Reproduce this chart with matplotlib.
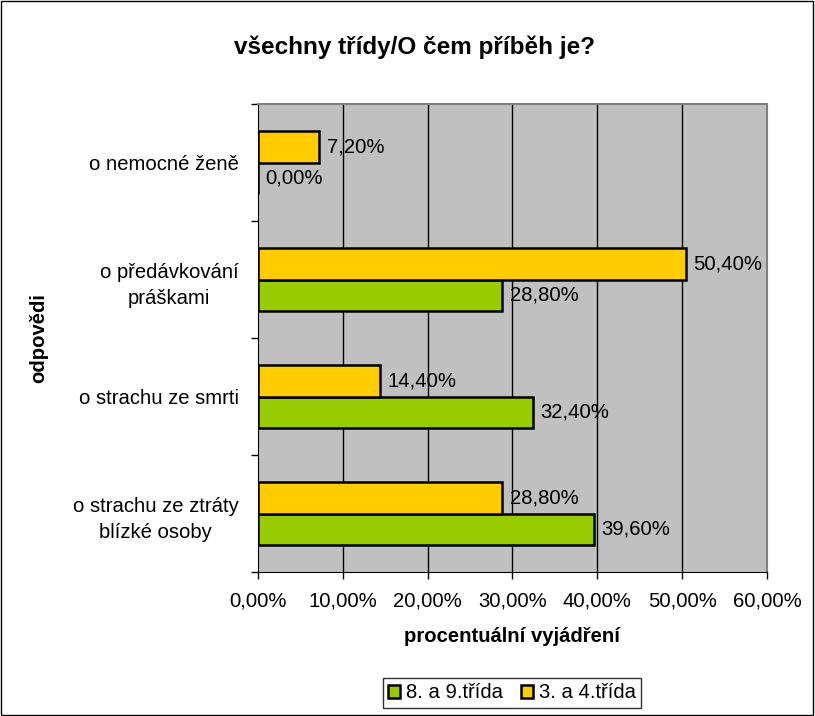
import numpy as np
import matplotlib
matplotlib.use("Agg")
import matplotlib.pyplot as plt
from matplotlib.patches import Rectangle

plt.rcParams['font.family'] = ['Liberation Sans', 'DejaVu Sans']

# data (top to bottom as in the chart)
categories = ["o nemocné ženě", "o předávkování\npráškami", "o strachu ze smrti",
              "o strachu ze ztráty\nblízké osoby"]
series_names = ["8. a 9.třída", "3. a 4.třída"]
vals_89 = [0.0, 28.8, 32.4, 39.6]
vals_34 = [7.2, 50.4, 14.4, 28.8]
xticks = [0, 10, 20, 30, 40, 50, 60]

green = "#99CC00"
yellow = "#FFCC00"
fs = 14.6

fig = plt.figure(figsize=(8.15, 7.16), dpi=100)
ax = fig.add_axes([258/815, 1-572/716, (767-258)/815, (572-104)/716])
ax.set_facecolor("#C0C0C0")

n = len(categories)
y = np.arange(n)[::-1].astype(float)
h = 0.27

b1 = ax.barh(y - h/2, vals_89, height=h, color=green, edgecolor="black", linewidth=1.8,
             label=series_names[0], zorder=3)
b2 = ax.barh(y + h/2, vals_34, height=h, color=yellow, edgecolor="black", linewidth=1.8,
             label=series_names[1], zorder=3)

def fmt(v):
    return ("%.2f%%" % v).replace(".", ",")

for bars, vals in ((b1, vals_89), (b2, vals_34)):
    for rect, v in zip(bars, vals):
        ax.text(v + 0.9, rect.get_y() + rect.get_height()/2, fmt(v), va="center", ha="left",
                fontsize=fs, zorder=4)

ax.set_xlim(0, 60)
ax.set_ylim(-0.5, n - 0.5)
ax.set_xticks(xticks)
ax.set_xticklabels([fmt(t) for t in xticks], fontsize=fs)
for t in xticks[1:-1]:
    ax.axvline(t, color="black", linewidth=1, zorder=1)

ax.set_yticks(y)
ax.set_yticklabels(categories, fontsize=fs, multialignment="center", linespacing=1.5)
ax.tick_params(axis="y", length=0, pad=14)
ax.set_yticks(np.arange(-0.5, n, 1.0), minor=True)
ax.tick_params(axis="y", which="minor", length=5, width=1)
ax.tick_params(axis="x", length=5, width=1, pad=9)

for s in ("top", "right"):
    ax.spines[s].set_color("#808080")
    ax.spines[s].set_linewidth(1.5)
for s in ("left", "bottom"):
    ax.spines[s].set_color("black")

ax.set_xlabel("procentuální vyjádření", fontsize=fs, fontweight="bold", labelpad=12)
ax.set_ylabel("odpovědi", fontsize=fs, fontweight="bold", labelpad=18)

fig.text(415/815, 1 - 47/716, "všechny třídy/O čem příběh je?",
         ha="center", va="center", fontsize=17.5, fontweight="bold")

leg = ax.legend(handles=[b1, b2], loc="center", bbox_to_anchor=(512/815, 1 - 693/716),
                bbox_transform=fig.transFigure, ncol=2, fontsize=fs, frameon=True,
                fancybox=False, edgecolor="black", handlelength=0.6, handleheight=0.6,
                handletextpad=0.3, columnspacing=0.9, borderpad=0.25)
leg.get_frame().set_linewidth(1)

fig.patches.append(Rectangle((0.001, 0.002), 0.997, 0.996, transform=fig.transFigure,
                             fill=False, edgecolor="black", linewidth=1))

fig.savefig("out.png", dpi=100)
